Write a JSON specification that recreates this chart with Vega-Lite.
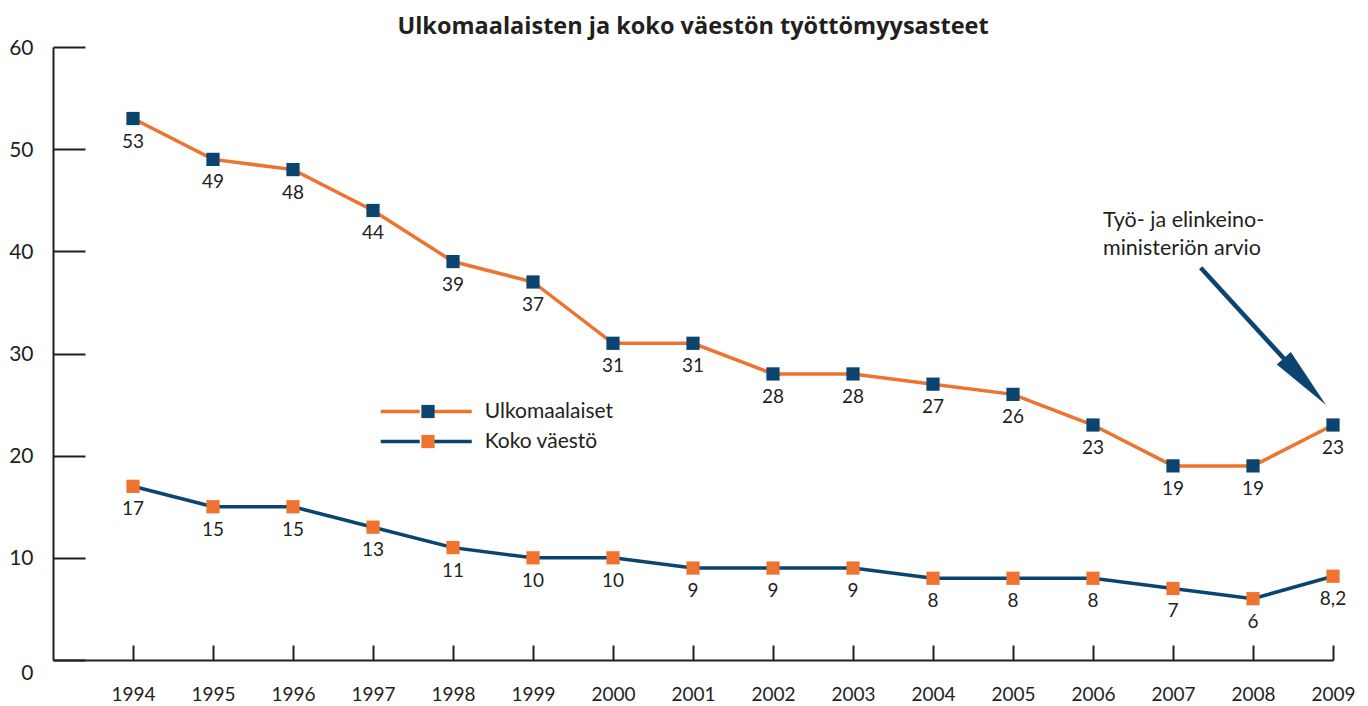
{
  "$schema": "https://vega.github.io/schema/vega-lite/v6.json",
  "width": 1280,
  "height": 613,
  "autosize": {"type": "none"},
  "padding": {"left": 53, "top": 47, "right": 35, "bottom": 46},
  "title": {
    "text": "Ulkomaalaisten ja koko väestön työttömyysasteet",
    "font": "Open Sans",
    "fontSize": 23.5,
    "fontWeight": "bold",
    "color": "#231F20",
    "anchor": "middle",
    "frame": "group",
    "offset": -1
  },
  "config": {
    "view": {"stroke": null},
    "font": "Lato",
    "text": {"font": "Lato", "color": "#231F20"}
  },
  "datasets": {
    "main": [
      {"year": 1994, "series": "Ulkomaalaiset", "value": 53, "label": "53"},
      {"year": 1995, "series": "Ulkomaalaiset", "value": 49, "label": "49"},
      {"year": 1996, "series": "Ulkomaalaiset", "value": 48, "label": "48"},
      {"year": 1997, "series": "Ulkomaalaiset", "value": 44, "label": "44"},
      {"year": 1998, "series": "Ulkomaalaiset", "value": 39, "label": "39"},
      {"year": 1999, "series": "Ulkomaalaiset", "value": 37, "label": "37"},
      {"year": 2000, "series": "Ulkomaalaiset", "value": 31, "label": "31"},
      {"year": 2001, "series": "Ulkomaalaiset", "value": 31, "label": "31"},
      {"year": 2002, "series": "Ulkomaalaiset", "value": 28, "label": "28"},
      {"year": 2003, "series": "Ulkomaalaiset", "value": 28, "label": "28"},
      {"year": 2004, "series": "Ulkomaalaiset", "value": 27, "label": "27"},
      {"year": 2005, "series": "Ulkomaalaiset", "value": 26, "label": "26"},
      {"year": 2006, "series": "Ulkomaalaiset", "value": 23, "label": "23"},
      {"year": 2007, "series": "Ulkomaalaiset", "value": 19, "label": "19"},
      {"year": 2008, "series": "Ulkomaalaiset", "value": 19, "label": "19"},
      {"year": 2009, "series": "Ulkomaalaiset", "value": 23, "label": "23"},
      {"year": 1994, "series": "Koko väestö", "value": 17, "label": "17"},
      {"year": 1995, "series": "Koko väestö", "value": 15, "label": "15"},
      {"year": 1996, "series": "Koko väestö", "value": 15, "label": "15"},
      {"year": 1997, "series": "Koko väestö", "value": 13, "label": "13"},
      {"year": 1998, "series": "Koko väestö", "value": 11, "label": "11"},
      {"year": 1999, "series": "Koko väestö", "value": 10, "label": "10"},
      {"year": 2000, "series": "Koko väestö", "value": 10, "label": "10"},
      {"year": 2001, "series": "Koko väestö", "value": 9, "label": "9"},
      {"year": 2002, "series": "Koko väestö", "value": 9, "label": "9"},
      {"year": 2003, "series": "Koko väestö", "value": 9, "label": "9"},
      {"year": 2004, "series": "Koko väestö", "value": 8, "label": "8"},
      {"year": 2005, "series": "Koko väestö", "value": 8, "label": "8"},
      {"year": 2006, "series": "Koko väestö", "value": 8, "label": "8"},
      {"year": 2007, "series": "Koko väestö", "value": 7, "label": "7"},
      {"year": 2008, "series": "Koko väestö", "value": 6, "label": "6"},
      {"year": 2009, "series": "Koko väestö", "value": 8.2, "label": "8,2"}
    ],
    "arrow": [
      {"year": 2007.346, "value": 38.4},
      {"year": 2008.649, "value": 27.25}
    ],
    "arrowhead": [
      {"year": 2008.649, "value": 27.25}
    ],
    "note": [
      {"year": 2006.125, "value": 43, "text": "Työ- ja elinkeino-\nministeriön arvio"}
    ]
  },
  "encoding": {
    "x": {
      "field": "year",
      "type": "quantitative",
      "scale": {"domain": [1993, 2009], "nice": false, "zero": false},
      "axis": {
        "title": null,
        "values": [1994, 1995, 1996, 1997, 1998, 1999, 2000, 2001, 2002, 2003, 2004, 2005, 2006, 2007, 2008, 2009],
        "format": "d",
        "grid": false,
        "tickSize": -15,
        "tickWidth": 2,
        "tickColor": "#231F20",
        "domainColor": "#231F20",
        "domainWidth": 2,
        "labelFont": "Lato",
        "labelFontSize": 19,
        "labelColor": "#231F20",
        "labelPadding": 40,
        "labelFlush": false,
        "labelOverlap": false
      }
    },
    "y": {
      "field": "value",
      "type": "quantitative",
      "scale": {"domain": [0, 60], "nice": false},
      "axis": {
        "title": null,
        "values": [0, 10, 20, 30, 40, 50, 60],
        "grid": false,
        "tickSize": -32,
        "tickWidth": 2,
        "tickColor": "#231F20",
        "domainColor": "#231F20",
        "domainWidth": 2,
        "labelFont": "Lato",
        "labelFontSize": 21,
        "labelColor": "#231F20",
        "labelPadding": 52,
        "labelFlush": false,
        "labelOverlap": false,
        "labelOffset": {"condition": {"test": "datum.value === 0", "value": 13}, "value": 1}
      }
    }
  },
  "layer": [
    {
      "data": {"name": "main"},
      "mark": {"type": "line", "strokeWidth": 3.5},
      "encoding": {
        "stroke": {
          "field": "series",
          "type": "nominal",
          "scale": {"domain": ["Ulkomaalaiset", "Koko väestö"], "range": ["#EE7330", "#0A446F"]},
          "legend": {
            "title": null,
            "orient": "none",
            "legendX": 362.75,
            "legendY": 354,
            "padding": 0,
            "symbolType": "M-7,0H-1M1,0H7",
            "symbolSize": 169,
            "symbolStrokeWidth": 3.5,
            "labelOffset": 48,
            "labelFont": "Lato",
            "labelFontSize": 21,
            "labelColor": "#231F20",
            "rowPadding": 8
          }
        }
      }
    },
    {
      "data": {"name": "main"},
      "mark": {"type": "point", "shape": "square", "filled": true, "size": 175, "opacity": 1, "strokeWidth": 0},
      "encoding": {
        "fill": {
          "field": "series",
          "type": "nominal",
          "sort": ["Ulkomaalaiset", "Koko väestö"],
          "scale": {"range": ["#0A446F", "#EE7330"]},
          "legend": {
            "title": null,
            "orient": "none",
            "legendX": 364.5,
            "legendY": 354,
            "padding": 0,
            "symbolType": "square",
            "symbolSize": 175,
            "symbolStrokeWidth": 0,
            "symbolOpacity": 1,
            "labelOffset": 48,
            "labelFont": "Lato",
            "labelFontSize": 21,
            "labelOpacity": 0,
            "rowPadding": 8
          }
        }
      }
    },
    {
      "data": {"name": "main"},
      "mark": {"type": "text", "dy": 23, "fontSize": 19, "baseline": "middle", "align": "center", "color": "#231F20"},
      "encoding": {"text": {"field": "label", "type": "nominal"}}
    },
    {
      "data": {"name": "arrow"},
      "mark": {"type": "line", "color": "#0A446F", "strokeWidth": 4.5},
      "encoding": {}
    },
    {
      "data": {"name": "arrowhead"},
      "mark": {"type": "point", "shape": "M0,-1L0.3,1L-0.3,1Z", "angle": 137.9, "size": 3969, "filled": true, "fill": "#0A446F", "opacity": 1, "strokeWidth": 0},
      "encoding": {}
    },
    {
      "data": {"name": "note"},
      "mark": {"type": "text", "align": "left", "baseline": "middle", "fontSize": 21.5, "lineHeight": 28, "lineBreak": "\n", "color": "#231F20"},
      "encoding": {"text": {"field": "text", "type": "nominal"}}
    }
  ]
}
